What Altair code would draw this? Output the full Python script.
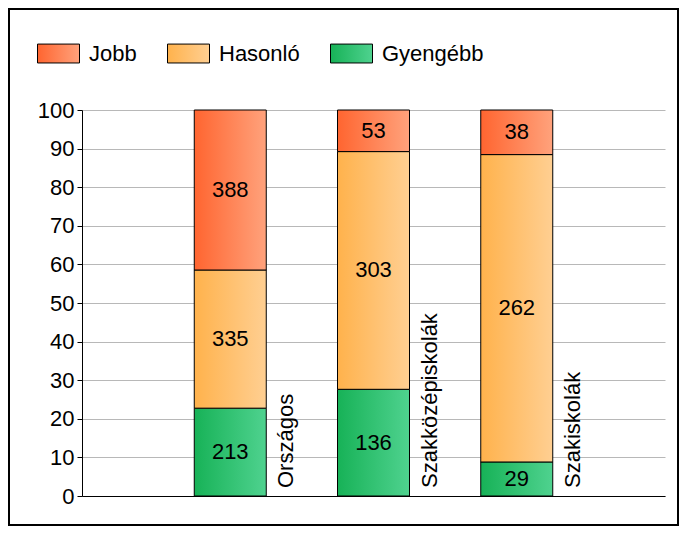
import altair as alt
import pandas as pd

categories = ["Országos", "Szakközépiskolák", "Szakiskolák"]
series = ["Jobb", "Hasonló", "Gyengébb"]
jobb = [388, 53, 38]
hasonlo = [335, 303, 262]
gyengebb = [213, 136, 29]
y_ticks = [0, 10, 20, 30, 40, 50, 60, 70, 80, 90, 100]

grad_colors = {
    "Jobb": ("#ff6530", "#ffa27c"),
    "Hasonló": ("#ffb24c", "#ffcf92"),
    "Gyengébb": ("#17b257", "#4fd28f"),
}

rows = []
for i, c in enumerate(categories):
    for s, vals, o in [("Gyengébb", gyengebb, 0), ("Hasonló", hasonlo, 1), ("Jobb", jobb, 2)]:
        rows.append({"category": c, "pos": i + 1, "series": s, "count": vals[i], "order": o})
df = pd.DataFrame(rows)
cat_df = pd.DataFrame({"category": categories, "pos": list(range(1, len(categories) + 1))})


def grad(s):
    c1, c2 = grad_colors[s]
    return alt.ExprRef(
        expr="{gradient: 'linear', x1: 0, y1: 0, x2: 1, y2: 0, stops: [{offset: 0, color: '%s'}, {offset: 1, color: '%s'}]}"
        % (c1, c2)
    )


FONT = "Liberation Sans"
FS = 22

base = (
    alt.Chart(df)
    .transform_joinaggregate(total="sum(count)", groupby=["category"])
    .transform_calculate(pct="100 * datum.count / datum.total")
    .transform_stack(stack="pct", groupby=["category"], as_=["y0", "y1"], sort=[alt.SortField("order")])
    .transform_calculate(mid="(datum.y0 + datum.y1) / 2")
)

xaxis = alt.Axis(title=None, labels=False, ticks=False, grid=False, domainColor="black", domainWidth=1)
xscale = alt.Scale(domain=[0, 4], nice=False, zero=False)
yscale = alt.Scale(domain=[0, 100], nice=False)
yaxis = alt.Axis(
    title=None,
    values=y_ticks,
    tickCount=20,
    labelOverlap=False,
    labelFontSize=FS,
    labelFont=FONT,
    labelColor="black",
    tickColor="black",
    tickSize=5,
    domainColor="black",
    gridColor="#b8b8b8",
    labelPadding=3,
)

bars = base.mark_bar(size=72, stroke="black", strokeWidth=1, opacity=1).encode(
    x=alt.X("pos:Q", scale=xscale, axis=xaxis),
    y=alt.Y("y0:Q", scale=yscale, axis=yaxis),
    y2="y1:Q",
    color=alt.Color(
        "series:N",
        scale=alt.Scale(domain=series, range=[grad(s) for s in series]),
        legend=alt.Legend(
            title=None,
            orient="none",
            legendX=-45,
            legendY=-78,
            direction="horizontal",
            symbolType="M-1,-0.45H1V0.45H-1Z",
            symbolSize=1764,
            symbolStrokeColor="black",
            symbolStrokeWidth=1,
            symbolOpacity=1,
            labelFontSize=FS,
            labelFont=FONT,
            labelColor="black",
            labelOffset=9,
            columnPadding=28,
            padding=0,
        ),
    ),
)

values = base.mark_text(fontSize=FS, font=FONT, color="black", baseline="middle").encode(
    x=alt.X("pos:Q", scale=xscale, axis=xaxis),
    y=alt.Y("mid:Q", scale=yscale, axis=yaxis),
    text="count:Q",
)

cat_labels = (
    alt.Chart(cat_df)
    .transform_calculate(zero="0")
    .mark_text(angle=270, align="left", baseline="middle", dx=8, dy=56, fontSize=FS, font=FONT, color="black")
    .encode(
        x=alt.X("pos:Q", scale=xscale, axis=xaxis),
        y=alt.Y("zero:Q", scale=yscale, axis=yaxis),
        text="category:N",
    )
)

border = (
    alt.Chart(alt.Data(values=[{"a": 1}]))
    .mark_rect(filled=False, stroke="black", strokeWidth=2)
    .encode(x=alt.value(-73), x2=alt.value(596), y=alt.value(-101), y2=alt.value(415))
)

chart = (
    alt.layer(bars, values, cat_labels, border)
    .properties(
        width=583,
        height=386,
        autosize=alt.AutoSizeParams(type="none"),
        padding={"left": 74, "top": 102, "right": 14, "bottom": 30},
        background="white",
    )
    .configure_view(stroke=None)
)

chart.save("out.html", embed_options={"renderer": "svg", "actions": False})
